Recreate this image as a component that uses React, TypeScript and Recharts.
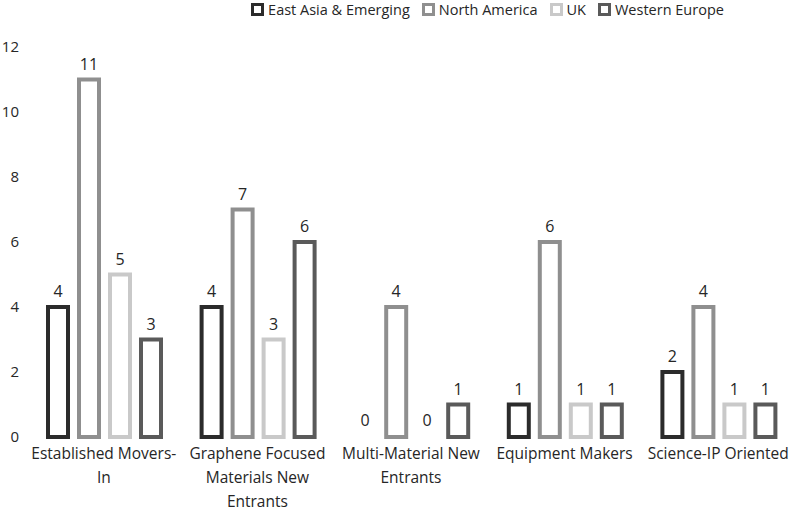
import { BarChart, Bar, XAxis, YAxis, Legend, LabelList, Text, Rectangle } from "recharts";

const categories = [
  "Established Movers-In",
  "Graphene Focused Materials New Entrants",
  "Multi-Material New Entrants",
  "Equipment Makers",
  "Science-IP Oriented",
];
const eastAsia = [4, 4, 0, 1, 2];
const northAmerica = [11, 7, 4, 6, 4];
const uk = [5, 3, 0, 1, 1];
const westernEurope = [3, 6, 1, 1, 1];
const yTicks = [0, 2, 4, 6, 8, 10, 12];

const series = [
  { key: "eastAsia", name: "East Asia & Emerging", color: "#2b2b2b" },
  { key: "northAmerica", name: "North America", color: "#8f8f8f" },
  { key: "uk", name: "UK", color: "#c9c9c9" },
  { key: "westernEurope", name: "Western Europe", color: "#5a5a5a" },
];

const data = categories.map((name, i) => ({
  name,
  eastAsia: eastAsia[i],
  northAmerica: northAmerica[i],
  uk: uk[i],
  westernEurope: westernEurope[i],
}));

const FONT = "'Open Sans', sans-serif";
const TEXT = "#262626";

// break on spaces and after hyphens, ~19 chars a line
const wrap = (label: string, max = 19) => {
  const tokens = label.match(/[^\s-]+-?/g) || [];
  const lines: string[] = [];
  let cur = "";
  tokens.forEach((t) => {
    const sep = cur === "" || cur.endsWith("-") ? "" : " ";
    if ((cur + sep + t).length > max && cur !== "") {
      lines.push(cur);
      cur = t;
    } else {
      cur = cur + sep + t;
    }
  });
  if (cur) lines.push(cur);
  return lines;
};

const CategoryTick = ({ x, y, payload }: any) => {
  const lines = wrap(payload.value);
  return (
    <g>
      {lines.map((l, i) => (
        <Text
          key={i}
          x={x}
          y={y + 8 + i * 24}
          textAnchor="middle"
          verticalAnchor="middle"
          fontFamily={FONT}
          fontSize={15.5}
          fill={TEXT}
        >
          {l}
        </Text>
      ))}
    </g>
  );
};

// zero values get a 1px stub so the label shows, but no outline is drawn
const BarShape = (props: any) => {
  const v = props.payload?.[props.dataKey];
  if (!v) return <g />;
  return <Rectangle {...props} />;
};

const ValueLabel = ({ x, y, width, value }: any) => (
  <text
    x={x + width / 2}
    y={y - 10}
    textAnchor="middle"
    fontFamily={FONT}
    fontSize={16}
    fill={TEXT}
  >
    {value}
  </text>
);

const LegendContent = () => (
  <div
    style={{
      display: "flex",
      justifyContent: "center",
      gap: 12,
      fontFamily: FONT,
      fontSize: 14.5,
      color: TEXT,
      paddingLeft: 180,
    }}
  >
    {series.map((s) => (
      <div key={s.key} style={{ display: "flex", alignItems: "center" }}>
        <span
          style={{
            display: "inline-block",
            width: 7,
            height: 7,
            border: `3px solid ${s.color}`,
            marginRight: 4,
          }}
        />
        {s.name}
      </div>
    ))}
  </div>
);

export default function App() {
  return (
    <div style={{ position: "absolute", left: 0, top: 0 }}>
      <BarChart
        width={795}
        height={515}
        data={data}
        margin={{ top: 27, right: 0, bottom: 0, left: 0 }}
        barCategoryGap={21}
        barGap={11}
      >
        <Legend
          verticalAlign="top"
          height={20}
          content={<LegendContent />}
          wrapperStyle={{ top: 0 }}
        />
        <XAxis
          dataKey="name"
          axisLine={false}
          tickLine={false}
          height={78}
          interval={0}
          tick={<CategoryTick />}
        />
        <YAxis
          domain={[0, 12]}
          ticks={yTicks}
          width={27}
          axisLine={false}
          tickLine={false}
          tick={{ fontFamily: FONT, fontSize: 15, fill: TEXT }}
        />
        {series.map((s) => (
          <Bar
            key={s.key}
            dataKey={s.key}
            name={s.name}
            fill="#ffffff"
            stroke={s.color}
            strokeWidth={4}
            minPointSize={1}
            shape={<BarShape dataKey={s.key} />}
            isAnimationActive={false}
          >
            <LabelList dataKey={s.key} content={<ValueLabel />} />
          </Bar>
        ))}
      </BarChart>
    </div>
  );
}
